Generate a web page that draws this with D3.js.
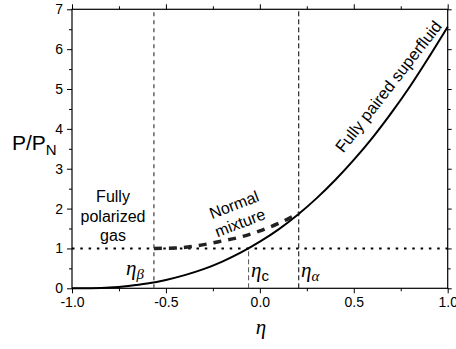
<!DOCTYPE html>
<html>
<head>
<meta charset="utf-8">
<script src="https://cdn.jsdelivr.net/npm/d3@7"></script>
<style>
  body { margin: 0; background: #fff; }
  svg { display: block; font-family: Arial, "Liberation Sans", sans-serif; }
</style>
</head>
<body>
<div id="chart"></div>
<script>
// superfluid curve
const etaS = [-1.0, -0.9, -0.8, -0.7, -0.6, -0.5, -0.4, -0.3, -0.2, -0.1, 0.0, 0.1, 0.2, 0.3, 0.4, 0.5, 0.6, 0.7, 0.8, 0.9, 1.0];
const pS   = [0.0, 0.004, 0.02, 0.06, 0.12, 0.21, 0.33, 0.48, 0.67, 0.90, 1.17, 1.48, 1.84, 2.25, 2.71, 3.22, 3.78, 4.40, 5.07, 5.80, 6.56];
// normal mixture (dashed)
const etaN = [-0.564, -0.45, -0.33, -0.22, -0.1, 0.0, 0.1, 0.207];
const pN   = [1.0, 1.01, 1.07, 1.17, 1.29, 1.44, 1.63, 1.88];
// special points
const etaBeta = -0.564, etaC = -0.06, etaAlpha = 0.207;
const xTicks = [-1.0, -0.5, 0.0, 0.5, 1.0];
const xMinor = [-0.75, -0.25, 0.25, 0.75];
const yTicks = [0, 1, 2, 3, 4, 5, 6, 7];
const yMinor = [0.5, 1.5, 2.5, 3.5, 4.5, 5.5, 6.5];

const W = 456, H = 349;
const m = {left: 72, right: 8.3, top: 9.3, bottom: 60.7};

const svg = d3.select("#chart").append("svg").attr("width", W).attr("height", H);

const x = d3.scaleLinear().domain([-1, 1]).range([m.left, W - m.right]);
const y = d3.scaleLinear().domain([0, 7]).range([H - m.bottom, m.top]);

// axes, ticks outward on all four sides
function addAxis(gen, tr, vals, size, fmt) {
    const g = svg.append("g").attr("transform", tr)
        .call(gen.tickValues(vals).tickSize(size).tickSizeOuter(0).tickPadding(size === 5 ? 4 : 3).tickFormat(fmt));
    g.select(".domain").remove();
    g.selectAll("line").attr("stroke", "#000").attr("stroke-width", 1);
    g.selectAll("text").attr("font-size", "14px").attr("fill", "#000").attr("font-family", "Arial, 'Liberation Sans', sans-serif");
    return g;
}
const fx = d => d3.format(".1f")(d).replace("−", "-");
const bottomY = H - m.bottom, leftX = m.left;
addAxis(d3.axisBottom(x), `translate(0,${bottomY})`, xTicks, 5, fx);
addAxis(d3.axisBottom(x), `translate(0,${bottomY})`, xMinor, 3, "");
addAxis(d3.axisTop(x), `translate(0,${m.top})`, xTicks, 5, "");
addAxis(d3.axisTop(x), `translate(0,${m.top})`, xMinor, 3, "");
addAxis(d3.axisLeft(y), `translate(${leftX},0)`, yTicks, 5, d3.format("d"));
addAxis(d3.axisLeft(y), `translate(${leftX},0)`, yMinor, 3, "");
addAxis(d3.axisRight(y), `translate(${W - m.right},0)`, yTicks, 4, "");
addAxis(d3.axisRight(y), `translate(${W - m.right},0)`, yMinor, 3, "");

svg.append("rect")
    .attr("x", x(-1)).attr("y", y(7))
    .attr("width", x(1) - x(-1)).attr("height", y(0) - y(7))
    .attr("fill", "none").attr("stroke", "#000").attr("stroke-width", 1.2);

// horizontal dotted P = 1
svg.append("line")
    .attr("x1", x(-1)).attr("x2", x(1)).attr("y1", y(1)).attr("y2", y(1))
    .attr("stroke", "#000").attr("stroke-width", 2).attr("stroke-dasharray", "2.5,5.8");

// vertical dashed lines
svg.append("line")
    .attr("x1", x(etaBeta)).attr("x2", x(etaBeta)).attr("y1", y(0)).attr("y2", y(7))
    .attr("stroke", "#666").attr("stroke-width", 1.5).attr("stroke-dasharray", "4,4");
svg.append("line")
    .attr("x1", x(etaAlpha)).attr("x2", x(etaAlpha)).attr("y1", y(0)).attr("y2", y(7))
    .attr("stroke", "#000").attr("stroke-width", 1).attr("stroke-dasharray", "5,3");
svg.append("line")
    .attr("x1", x(etaC)).attr("x2", x(etaC)).attr("y1", y(0)).attr("y2", y(1))
    .attr("stroke", "#555").attr("stroke-width", 1).attr("stroke-dasharray", "5,3");

// curves
const line = d3.line().x(d => x(d[0])).y(d => y(d[1])).curve(d3.curveMonotoneX);
svg.append("path")
    .attr("d", line(d3.zip(etaS, pS)))
    .attr("fill", "none").attr("stroke", "#000").attr("stroke-width", 2);
svg.append("path")
    .attr("d", line(d3.zip(etaN, pN)))
    .attr("fill", "none").attr("stroke", "#222").attr("stroke-width", 3.5).attr("stroke-dasharray", "8,7");

// labels
const txt = (xx, yy, s, size) => svg.append("text").attr("x", xx).attr("y", yy)
    .attr("font-size", size + "px").attr("text-anchor", "middle").attr("fill", "#000").text(s);

txt(113, 202, "Fully", 16);
txt(113, 222, "polarized", 16);
txt(113, 241, "gas", 16);

svg.append("text").attr("transform", "translate(236,210) rotate(-21)")
    .attr("text-anchor", "middle").attr("font-size", "16px").text("Normal");
svg.append("text").attr("transform", "translate(242,228) rotate(-21)")
    .attr("text-anchor", "middle").attr("font-size", "16px").text("mixture");

svg.append("text").attr("transform", "translate(393,90) rotate(-52)")
    .attr("text-anchor", "middle").attr("font-size", "16.5px").text("Fully paired superfluid");

// y title P/P_N
const yt = svg.append("text").attr("x", 12).attr("y", 150).attr("font-size", "21px");
yt.append("tspan").text("P/P");
yt.append("tspan").attr("font-size", "15px").attr("dy", 5).text("N");

// eta labels
const serif = "'Liberation Serif', 'Times New Roman', serif";
function etaLabel(xx, yy, sub, subItalic) {
    const t = svg.append("text").attr("x", xx).attr("y", yy).attr("font-family", serif)
        .attr("font-size", "21px").attr("font-style", "italic");
    t.append("tspan").text("η");
    t.append("tspan").attr("dy", 4).attr("font-size", "15px")
        .attr("font-style", subItalic ? "italic" : "normal")
        .attr("font-family", subItalic ? serif : "Arial, 'Liberation Sans', sans-serif")
        .text(sub);
}
etaLabel(126, 275, "β", true);
etaLabel(251, 277, "c", false);
etaLabel(301, 277, "α", true);

svg.append("text").attr("x", x(0) + 1).attr("y", 334).attr("text-anchor", "middle")
    .attr("font-family", serif).attr("font-style", "italic").attr("font-size", "21px").text("η");
</script>
</body>
</html>
